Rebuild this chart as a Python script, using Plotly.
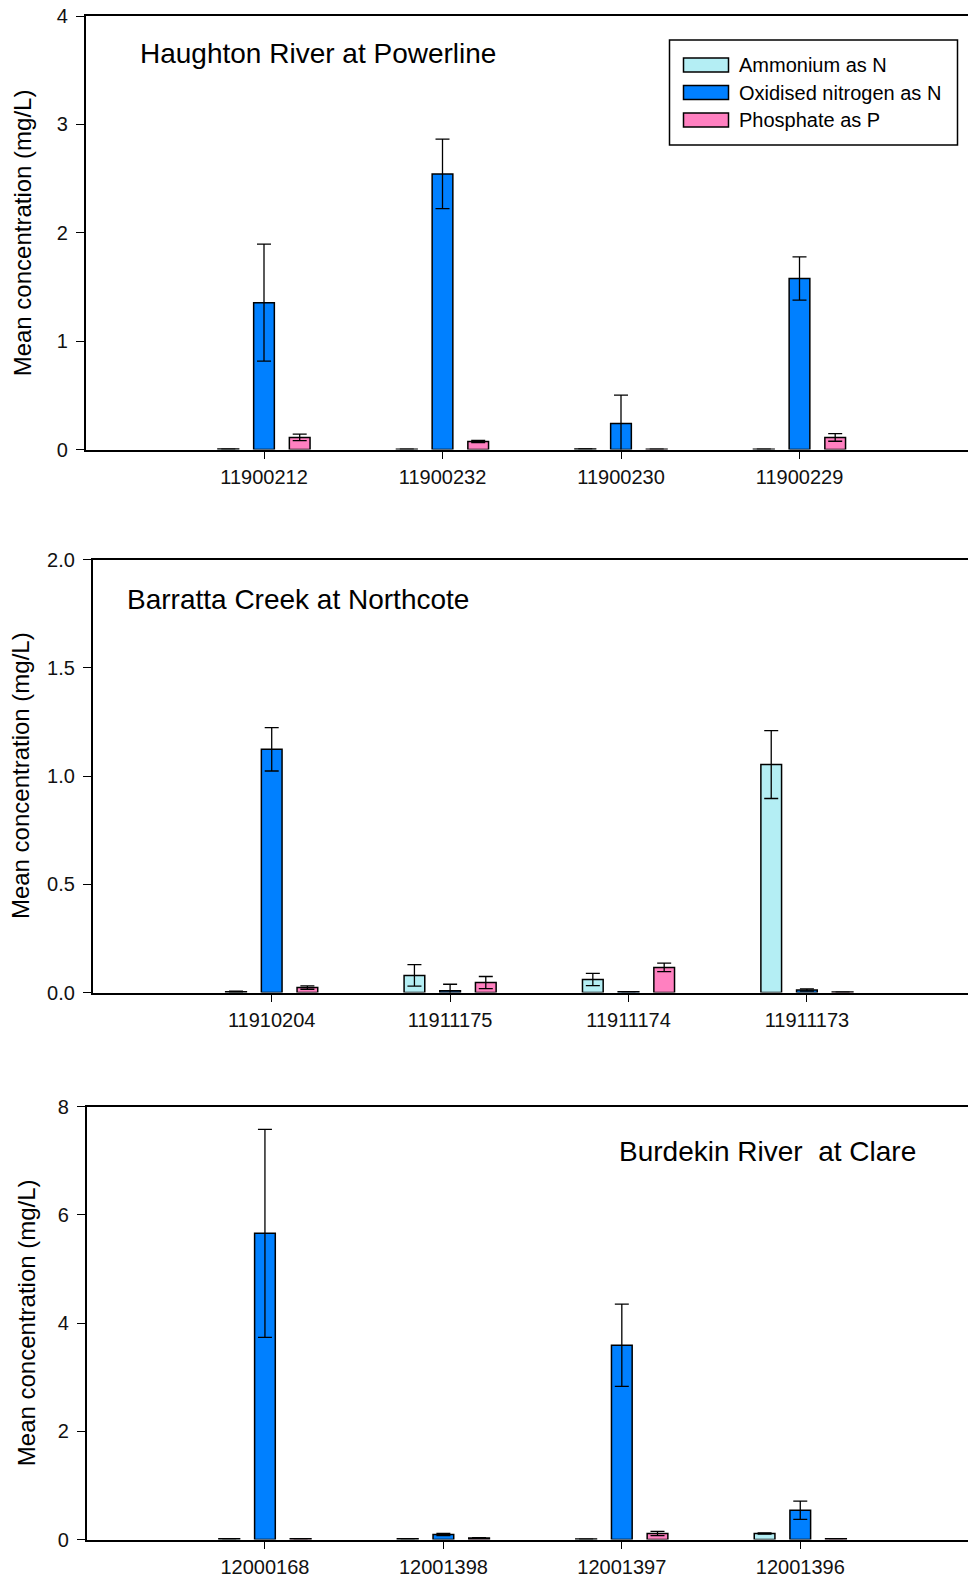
import plotly.graph_objects as go

W, H = 968, 1577

series_names = ["Ammonium as N", "Oxidised nitrogen as N", "Phosphate as P"]
series_colors = ["#B4EEF4", "#0080FF", "#FF80C0"]

# Panel 1: Haughton River at Powerline
p1_title = "Haughton River at Powerline"
p1_sites = ["11900212", "11900232", "11900230", "11900229"]
p1_amm = [0.004, 0.003, 0.005, 0.003]
p1_amm_err = [0.0, 0.0, 0.0, 0.0]
p1_oxn = [1.355, 2.543, 0.241, 1.578]
p1_oxn_err = [0.54, 0.32, 0.26, 0.20]
p1_pho = [0.111, 0.074, 0.003, 0.111]
p1_pho_err = [0.03, 0.01, 0.0, 0.035]

# Panel 2: Barratta Creek at Northcote
p2_title = "Barratta Creek at Northcote"
p2_sites = ["11910204", "11911175", "11911174", "11911173"]
p2_amm = [0.004, 0.079, 0.060, 1.053]
p2_amm_err = [0.002, 0.05, 0.028, 0.157]
p2_oxn = [1.123, 0.008, 0.003, 0.012]
p2_oxn_err = [0.10, 0.03, 0.0, 0.005]
p2_pho = [0.023, 0.046, 0.116, 0.002]
p2_pho_err = [0.008, 0.028, 0.02, 0.0]

# Panel 3: Burdekin River at Clare
p3_title = "Burdekin River  at Clare"
p3_sites = ["12000168", "12001398", "12001397", "12001396"]
p3_amm = [0.012, 0.012, 0.008, 0.11]
p3_amm_err = [0.0, 0.0, 0.0, 0.01]
p3_oxn = [5.656, 0.093, 3.59, 0.54]
p3_oxn_err = [1.92, 0.02, 0.76, 0.17]
p3_pho = [0.012, 0.03, 0.11, 0.015]
p3_pho_err = [0.0, 0.005, 0.04, 0.0]

y_title = "Mean concentration (mg/L)"

panels = [
    dict(title=p1_title, sites=p1_sites, vals=[p1_amm, p1_oxn, p1_pho],
         errs=[p1_amm_err, p1_oxn_err, p1_pho_err], yrange=[0, 4], dtick=1, fmt="d",
         left=85.5, bottom=449.5, top=16, xr=[-1.0, 3.944],
         ttl_x=138, ttl_y=53, ttl_anchor="left", ylab_x=22.6),
    dict(title=p2_title, sites=p2_sites, vals=[p2_amm, p2_oxn, p2_pho],
         errs=[p2_amm_err, p2_oxn_err, p2_pho_err], yrange=[0, 2], dtick=0.5, fmt=".1f",
         left=92.6, bottom=992.5, top=559.5, xr=[-1.004, 3.903],
         ttl_x=125, ttl_y=599, ttl_anchor="left", ylab_x=20.1),
    dict(title=p3_title, sites=p3_sites, vals=[p3_amm, p3_oxn, p3_pho],
         errs=[p3_amm_err, p3_oxn_err, p3_pho_err], yrange=[0, 8], dtick=2, fmt="d",
         left=86.5, bottom=1539.5, top=1106.5, xr=[-1.0, 3.94],
         ttl_x=617, ttl_y=1151, ttl_anchor="left", ylab_x=26.2),
]

FONT = "Liberation Sans, Arial, sans-serif"

def PX(x):
    return x / W

def PY(y):
    return 1 - y / H

fig = go.Figure()
layout = dict(
    template="none",
    width=W, height=H, margin=dict(l=0, r=0, t=0, b=0, pad=0, autoexpand=False),
    paper_bgcolor="white", plot_bgcolor="white",
    barmode="group", bargap=0.4, bargroupgap=0.42,
    showlegend=False, font=dict(family=FONT, color="#111111"),
)
annotations = []
shapes = []

for i, p in enumerate(panels):
    n = "" if i == 0 else str(i + 1)
    xa, ya = "x" + n, "y" + n
    for s in range(3):
        fig.add_trace(go.Bar(
            x=p["sites"], y=p["vals"][s], name=series_names[s],
            xaxis=xa, yaxis=ya,
            marker=dict(color=series_colors[s], line=dict(color="black", width=1.5)),
            error_y=dict(type="data", array=p["errs"][s], visible=True,
                         color="black", thickness=1.3, width=7),
        ))
    layout["xaxis" + n] = dict(
        domain=[PX(p["left"]), 1.0], anchor=ya, type="category", automargin=False,
        range=p["xr"], showline=True, linecolor="black", linewidth=1.5, mirror=True,
        ticks="outside", ticklen=8, tickwidth=1, tickcolor="black",
        tickfont=dict(size=20, family=FONT, color="#111111"),
        ticklabelstandoff=1, showgrid=False, zeroline=False, fixedrange=True,
    )
    layout["yaxis" + n] = dict(
        domain=[PY(p["bottom"]), PY(p["top"])], anchor=xa, automargin=False,
        range=p["yrange"], dtick=p["dtick"], tick0=0, tickformat=p["fmt"],
        showline=True, linecolor="black", linewidth=1.5,
        ticks="outside", ticklen=8, tickwidth=1, tickcolor="black",
        tickfont=dict(size=20, family=FONT, color="#111111"),
        ticklabelstandoff=4, showgrid=False, zeroline=False, fixedrange=True,
    )
    annotations.append(dict(
        text=p["title"], xref="paper", yref="paper",
        x=PX(p["ttl_x"]), y=PY(p["ttl_y"]), xanchor=p["ttl_anchor"], yanchor="middle",
        showarrow=False, font=dict(size=28, family=FONT, color="black"),
    ))
    annotations.append(dict(
        text=y_title, xref="paper", yref="paper", textangle=-90,
        x=PX(p["ylab_x"]), y=PY((p["top"] + p["bottom"]) / 2),
        xanchor="center", yanchor="middle", showarrow=False,
        font=dict(size=24, family=FONT, color="black"),
    ))

# custom legend (panel 1)
shapes.append(dict(type="rect", xref="paper", yref="paper",
                   x0=PX(669.5), x1=PX(957.5), y0=PY(145), y1=PY(40),
                   line=dict(color="black", width=1.5), fillcolor="white", layer="above"))
leg_rows = [65, 92.5, 120]
for s in range(3):
    cy = leg_rows[s]
    shapes.append(dict(type="rect", xref="paper", yref="paper",
                       x0=PX(683.5), x1=PX(728.5), y0=PY(cy + 7), y1=PY(cy - 7),
                       line=dict(color="black", width=1.5), fillcolor=series_colors[s],
                       layer="above"))
    annotations.append(dict(
        text=series_names[s], xref="paper", yref="paper",
        x=PX(737), y=PY(cy), xanchor="left", yanchor="middle", showarrow=False,
        font=dict(size=20, family=FONT, color="black"),
    ))

layout["annotations"] = annotations
layout["shapes"] = shapes
fig.update_layout(**layout)
fig.write_html("out.html")
